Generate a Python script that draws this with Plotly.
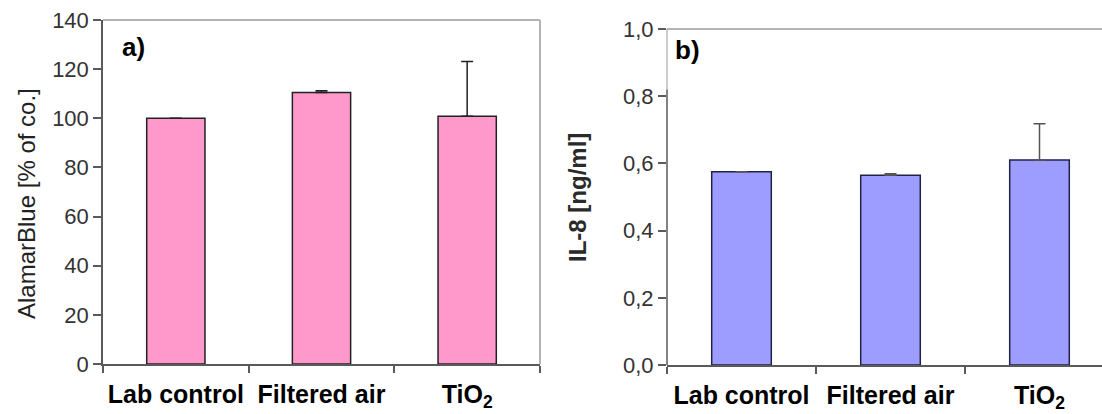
import plotly.graph_objects as go

# Treatment groups shared by both panels
categories = ["Lab control", "Filtered air", "TiO<sub>2</sub>"]

# a) cell viability, AlamarBlue assay (% of control)
alamar_mean = [100.0, 110.5, 100.8]
alamar_err = [0.0, 0.7, 22.3]

# b) IL-8 release (ng/ml)
il8_mean = [0.575, 0.565, 0.61]
il8_err = [0.0, 0.004, 0.108]

alamar_ticks = [0, 20, 40, 60, 80, 100, 120, 140]
il8_ticks = [0.0, 0.2, 0.4, 0.6, 0.8, 1.0]

W, H = 1102, 414
FONT = "Liberation Sans, Arial, sans-serif"
AXIS_DARK = "#5a5a5a"
FRAME_GREY = "#b4b4b4"

fig = go.Figure()

fig.add_trace(go.Bar(
    x=categories, y=alamar_mean, xaxis="x", yaxis="y", width=0.4,
    marker=dict(color="#ff99cc", line=dict(color="#222222", width=1.5)),
    error_y=dict(type="data", array=alamar_err, symmetric=False,
                 arrayminus=[0] * len(alamar_err), color="#222222",
                 thickness=1.5, width=6),
    showlegend=False,
))
fig.add_trace(go.Bar(
    x=categories, y=il8_mean, xaxis="x2", yaxis="y2", width=0.4,
    marker=dict(color="#9d9dff", line=dict(color="#222244", width=1.5)),
    error_y=dict(type="data", array=il8_err, symmetric=False,
                 arrayminus=[0] * len(il8_err), color="#555555",
                 thickness=1.5, width=6),
    showlegend=False,
))

# panel placement in pixels
ax_l, ax_r, ax_t, ax_b = 103, 540, 20, 364
bx_l, bx_r, bx_t, bx_b = 667, 1102, 29, 365
cat_px_b = 149.0
b_span = (bx_r - bx_l) / cat_px_b

tick_font = dict(family=FONT, size=22, color="#333333")
cat_font = dict(family=FONT, size=25, color="#000000", weight="bold")

xcommon = dict(type="category", showline=True, linecolor=AXIS_DARK, linewidth=1.5,
               ticks="outside", tickson="boundaries", ticklen=7, tickcolor=AXIS_DARK,
               tickwidth=1.5, showgrid=False, zeroline=False, tickfont=cat_font,
               tickangle=0, ticklabelstandoff=7, automargin=False)
ycommon = dict(ticks="outside", ticklen=8, tickcolor=AXIS_DARK, tickwidth=1.5,
               showgrid=False, zeroline=False, tickfont=tick_font, automargin=False)

fig.update_layout(
    width=W, height=H,
    margin=dict(l=0, r=0, t=0, b=0),
    paper_bgcolor="white", plot_bgcolor="white",
    separators=",.",
    bargap=0.6,
    xaxis=dict(domain=[ax_l / W, ax_r / W], anchor="y", range=[-0.5, 2.5], **xcommon),
    yaxis=dict(domain=[(H - ax_b) / H, (H - ax_t) / H], anchor="x", range=[0, 140],
               tickvals=alamar_ticks, showline=True, linecolor=AXIS_DARK, linewidth=1.5,
               **ycommon),
    xaxis2=dict(domain=[bx_l / W, bx_r / W], anchor="y2", range=[-0.5, -0.5 + b_span],
                **xcommon),
    yaxis2=dict(domain=[(H - bx_b) / H, (H - bx_t) / H], anchor="x2", range=[0, 1.0],
                tickvals=il8_ticks, tickformat=".1f", showline=False, **ycommon),
)

shapes = [
    # frame of panel a (top and right)
    dict(type="line", xref="x domain", yref="y domain", x0=0, x1=1, y0=1, y1=1,
         line=dict(color=FRAME_GREY, width=2)),
    dict(type="line", xref="x domain", yref="y domain", x0=1, x1=1, y0=0, y1=1,
         line=dict(color=FRAME_GREY, width=2)),
    # top frame of panel b
    dict(type="line", xref="x2 domain", yref="y2 domain", x0=0, x1=1, y0=1, y1=1,
         line=dict(color=FRAME_GREY, width=2)),
    # left axis of panel b: light upper part, dark lower part
    dict(type="line", xref="x2 domain", yref="y2", x0=0, x1=0, y0=0.82, y1=1.0,
         line=dict(color="#9a9a9a", width=1)),
    dict(type="line", xref="x2 domain", yref="y2", x0=0, x1=0, y0=0, y1=0.82,
         line=dict(color=AXIS_DARK, width=1.5)),
]
fig.update_layout(shapes=shapes)

annotations = [
    dict(text="a)", xref="paper", yref="paper", x=133 / W, y=1 - 47 / H,
         xanchor="center", yanchor="middle", showarrow=False,
         font=dict(family=FONT, size=26, color="#000", weight="bold")),
    dict(text="b)", xref="paper", yref="paper", x=687 / W, y=1 - 50 / H,
         xanchor="center", yanchor="middle", showarrow=False,
         font=dict(family=FONT, size=26, color="#000", weight="bold")),
    dict(text="AlamarBlue [% of co.]", xref="paper", yref="paper", x=26 / W,
         y=1 - 204 / H, xanchor="center", yanchor="middle", textangle=-90,
         showarrow=False, font=dict(family=FONT, size=24, color="#222222")),
    dict(text="IL-8 [ng/ml]", xref="paper", yref="paper", x=577 / W,
         y=1 - 198 / H, xanchor="center", yanchor="middle", textangle=-90,
         showarrow=False, font=dict(family=FONT, size=24, color="#2a2a2a", weight="bold")),
]
fig.update_layout(annotations=annotations)

fig.write_html("out.html")
